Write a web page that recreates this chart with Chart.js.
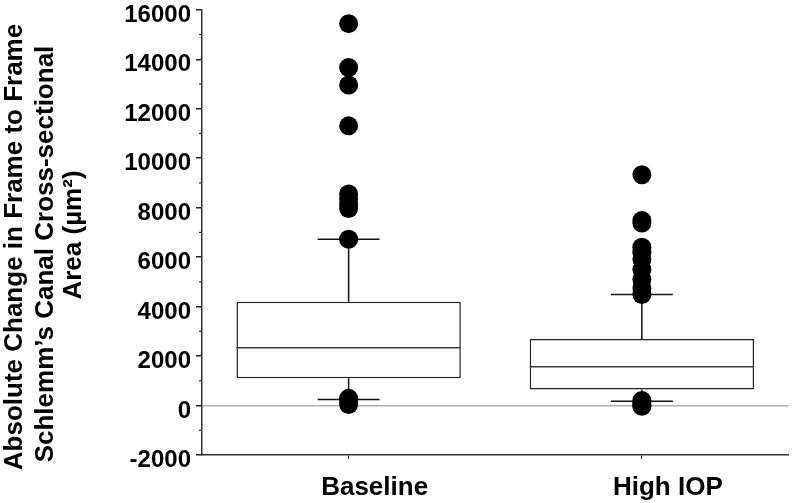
<!DOCTYPE html>
<html>
<head>
<meta charset="utf-8">
<script src="https://cdn.jsdelivr.net/npm/chart.js@4/dist/chart.umd.min.js"></script>
<style>
  html, body { margin: 0; padding: 0; background: #fff; }
  #wrap { width: 798px; height: 503px; }
</style>
</head>
<body>
<div id="wrap"><canvas id="c" width="798" height="503"></canvas></div>
<script>
// ---- data ----
const categories = ['Baseline', 'High IOP'];
const q1 = [1107, 653];
const medians = [2333, 1573];
const q3 = [4200, 2693];
const whiskerLow = [240, 173];
const whiskerHigh = [6720, 4493];
const baselineOutliers = [15440, 13667, 12960, 11307, 8550, 8350, 8150, 7970, 6720, 290, 180, 40];
const highIopOutliers = [9333, 7480, 7380, 6400, 6200, 5900, 5500, 5100, 4750, 4490, 200, 100, 0, -30];
const yTicks = [-2000, 0, 2000, 4000, 6000, 8000, 10000, 12000, 14000, 16000];
const titleLines = ['Absolute Change in Frame to Frame', 'Schlemm\u2019s Canal Cross-sectional', 'Area (\u00b5m\u00b2)'];

const FONT = '"Liberation Sans", Arial, Helvetica, sans-serif';

const outlierPoints = [];
baselineOutliers.forEach(v => outlierPoints.push({ x: categories[0], y: v }));
highIopOutliers.forEach(v => outlierPoints.push({ x: categories[1], y: v }));

const boxPlugin = {
  id: 'boxParts',
  afterDatasetDraw(chart, args) {
    if (args.meta.type !== 'bar') return;
    const ctx = chart.ctx;
    const ys = chart.scales.y;
    args.meta.data.forEach((bar, i) => {
      const cx = bar.x;
      const half = bar.width / 2;
      const capHalf = bar.width * 0.138;
      const yMed = ys.getPixelForValue(medians[i]);
      const yQ1 = ys.getPixelForValue(q1[i]);
      const yQ3 = ys.getPixelForValue(q3[i]);
      const yLo = ys.getPixelForValue(whiskerLow[i]);
      const yHi = ys.getPixelForValue(whiskerHigh[i]);
      ctx.save();
      ctx.lineWidth = 1.5;
      ctx.strokeStyle = '#3a3a3a';
      ctx.beginPath();
      ctx.moveTo(cx - half, yMed); ctx.lineTo(cx + half, yMed);
      ctx.stroke();
      ctx.strokeStyle = '#111';
      ctx.beginPath();
      ctx.moveTo(cx, yQ3); ctx.lineTo(cx, yHi);
      ctx.moveTo(cx - capHalf, yHi); ctx.lineTo(cx + capHalf, yHi);
      ctx.moveTo(cx, yQ1); ctx.lineTo(cx, yLo);
      ctx.moveTo(cx - capHalf, yLo); ctx.lineTo(cx + capHalf, yLo);
      ctx.stroke();
      ctx.restore();
    });
  },
  afterDraw(chart) {
    const ctx = chart.ctx;
    const ys = chart.scales.y;
    const left = chart.chartArea.left;
    ctx.save();
    // minor ticks
    ctx.strokeStyle = '#333';
    ctx.lineWidth = 1.2;
    for (let k = 0; k < yTicks.length - 1; k++) {
      const v = (yTicks[k] + yTicks[k + 1]) / 2;
      const py = ys.getPixelForValue(v);
      ctx.beginPath();
      ctx.moveTo(left - 3, py); ctx.lineTo(left, py);
      ctx.stroke();
    }
    // y axis title
    ctx.fillStyle = '#000';
    ctx.font = 'bold 26px ' + FONT;
    ctx.textAlign = 'center';
    ctx.textBaseline = 'alphabetic';
    const xs = [21.5, 53, 80.5];
    const cys = [247, 254, 235];
    titleLines.forEach((t, i) => {
      ctx.save();
      ctx.translate(xs[i], cys[i]);
      ctx.rotate(-Math.PI / 2);
      ctx.fillText(t, 0, 0);
      ctx.restore();
    });
    ctx.restore();
  }
};

new Chart(document.getElementById('c'), {
  type: 'bar',
  data: {
    labels: categories,
    datasets: [
      {
        type: 'scatter',
        order: 0,
        data: outlierPoints,
        pointStyle: 'circle',
        pointRadius: 9.5,
        pointBackgroundColor: '#000',
        pointBorderColor: '#000',
        pointBorderWidth: 0,
        showLine: false
      },
      {
        type: 'bar',
        order: 1,
        data: categories.map((c, i) => [q1[i], q3[i]]),
        backgroundColor: '#fff',
        borderColor: '#222',
        borderWidth: 1.5,
        borderSkipped: false,
        categoryPercentage: 1,
        barPercentage: 0.765
      }
    ]
  },
  options: {
    responsive: false,
    animation: false,
    devicePixelRatio: 1,
    layout: { padding: { top: 5, right: 1, left: 0, bottom: 0 } },
    plugins: { legend: { display: false }, tooltip: { enabled: false }, title: { display: false } },
    scales: {
      x: {
        type: 'category',
        offset: true,
        grid: { display: true, offset: false, drawOnChartArea: false, drawTicks: true, tickLength: 4, tickColor: '#222', tickWidth: 1 },
        border: { display: true, color: '#333', width: 1.5 },
        ticks: {
          color: '#000',
          padding: 13,
          labelOffset: 26,
          maxRotation: 0,
          font: { family: FONT, size: 26, weight: 'bold' }
        },
        afterFit(scale) { scale.height = 48; }
      },
      y: {
        min: -2000,
        max: 16000,
        afterBuildTicks(scale) { scale.ticks = yTicks.map(v => ({ value: v })); },
        grid: {
          display: true,
          drawOnChartArea: true,
          drawTicks: true,
          tickLength: 6,
          tickColor: '#222',
          color: ctx => (ctx.tick && ctx.tick.value === 0 ? '#b0b0b0' : 'rgba(0,0,0,0)'),
          lineWidth: 1.5
        },
        border: { display: true, color: '#333', width: 1.5 },
        ticks: {
          color: '#000',
          padding: 5,
          labelOffset: 5.5,
          callback: v => String(v),
          font: { family: FONT, size: 24, weight: 'bold', lineHeight: 0.4 }
        },
        afterFit(scale) { scale.width = 202; }
      }
    }
  },
  plugins: [boxPlugin]
});
</script>
</body>
</html>
